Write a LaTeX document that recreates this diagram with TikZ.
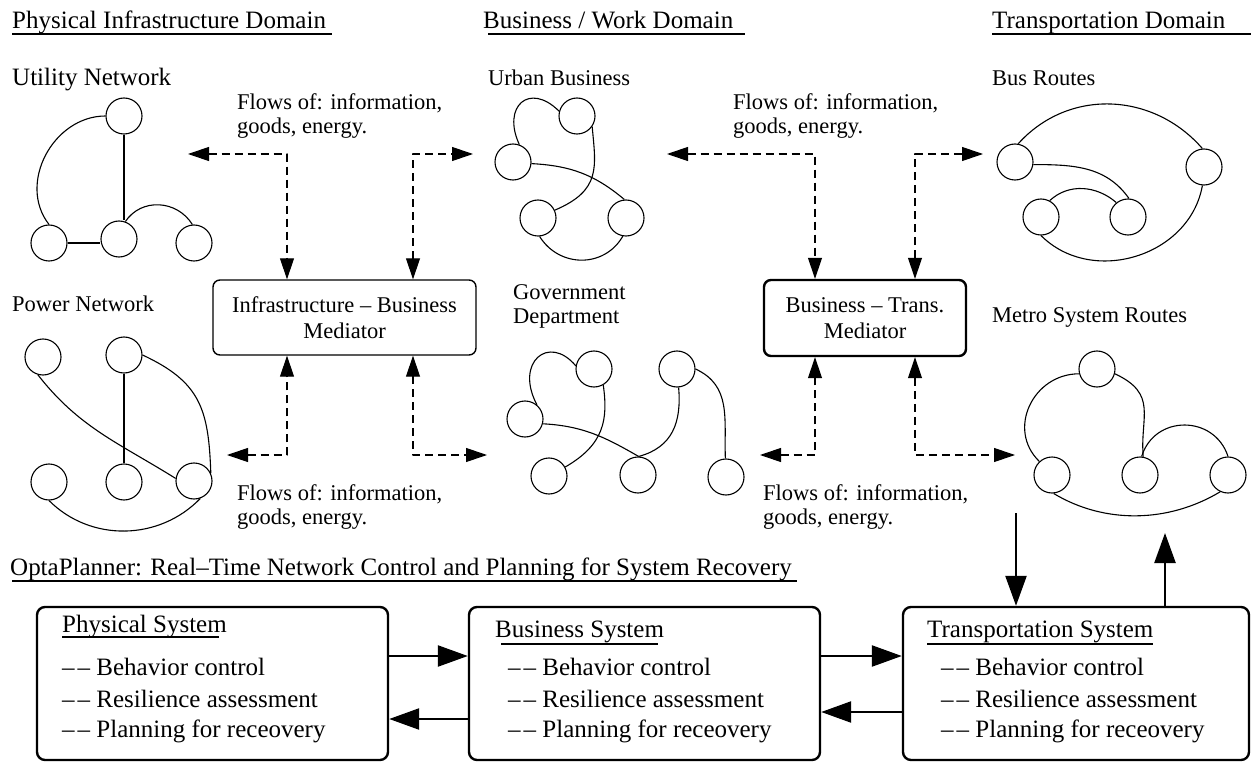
\documentclass[tikz,border=0pt]{standalone}
\usepackage{fontspec}
\setmainfont{Liberation Serif}
\usetikzlibrary{arrows.meta}
\newcommand\twodash{–\kern3pt–}
\newcommand\twoline[3]{\vtop{\baselineskip=#1\hbox{#2}\hbox{#3}}}
\begin{document}
\begin{tikzpicture}[x=1pt,y=1pt,line join=round,
  nd/.style={circle,draw,minimum size=36pt,inner sep=0pt,line width=1.1pt},
  link/.style={line width=1.1pt},
  small/.style={anchor=base west,inner sep=0pt,font=\fontsize{22.5}{26}\selectfont},
  big/.style={anchor=base west,inner sep=0pt,font=\fontsize{25}{30}\selectfont},
  uline/.style={line width=1.8pt},
  tline/.style={line width=1.3pt},
  flow/.style={line width=1.1pt,dash pattern=on 8pt off 5pt,
    {Triangle[length=21pt,width=14pt]}-{Triangle[length=21pt,width=14pt]}},
  ctl/.style={line width=2.4pt,-{Triangle[length=30pt,width=21pt]}},
  sysbox/.style={draw,rounded corners=8pt,line width=2.4pt,minimum height=153pt,inner sep=0pt},
  medbox/.style={draw,rounded corners=7pt,align=center,inner sep=0pt,
    font=\fontsize{22.5}{26}\selectfont},
]
\path[use as bounding box,fill=white] (0,0) rectangle (1251,-762);

% ---------- domain headings ----------
\node[big] (h1) at (12,-29) {Physical Infrastructure Domain};
\node[big] (h2) at (483,-29) {Business / Work Domain};
\node[big] (h3) at (992,-29) {Transportation Domain};
\draw[uline] (12,-34) -- (332,-34);
\draw[uline] (488,-34) -- (745,-34);
\draw[uline] (992,-34) -- (1251,-34);

% ---------- network labels ----------
\node[big] (lUtil) at (12,-86) {Utility Network};
\node[small] (lUrb) at (488,-86) {Urban Business};
\node[small] (lBus) at (992,-86) {Bus Routes};
\node[small] (lPow) at (12,-312) {Power Network};
\node[small] (lGov) at (513,-300) {\twoline{24pt}{Government}{Department}};
\node[small] (lMet) at (992,-323) {Metro System Routes};

% ---------- flow labels ----------
\node[small] (fa) at (237,-110) {\twoline{24pt}{Flows of: information,}{goods, energy.}};
\node[small] (fb) at (733,-110) {\twoline{24pt}{Flows of: information,}{goods, energy.}};
\node[small] (fc) at (237,-500) {\twoline{24pt}{Flows of: information,}{goods, energy.}};
\node[small] (fd) at (763,-500) {\twoline{24pt}{Flows of: information,}{goods, energy.}};

% ---------- utility network ----------
\node[nd] (uT) at (124,-116) {};
\node[nd] (uBL) at (49,-243) {};
\node[nd] (uBM) at (119,-239) {};
\node[nd] (uBR) at (194,-243) {};
\draw[link] (uT.west) .. controls +(180:52) and +(128:52) .. (uBL.north);
\draw[link] (uT.south) -- (uT.south |- uBM.north);
\draw[link] (uBL.east) -- (uBL.east -| uBM.west);
\draw[link] (uBM.70) .. controls +(56:29) and +(122:29) .. (uBR.95);

% ---------- power network ----------
\node[nd] (pTL) at (43,-357) {};
\node[nd] (pTM) at (124,-355) {};
\node[nd] (pBL) at (49,-482) {};
\node[nd] (pBM) at (124,-482) {};
\node[nd] (pBR) at (194,-481) {};
\draw[link] (pTL.-106) to[out=-52,in=148] (pBR.172);
\draw[link] (pTM.south) -- (pBM.north);
\draw[link] (pTM.0) to[out=-25,in=92,looseness=1.2] (pBR.25);
\draw[link] (pBL.-90) .. controls +(-45:59) and +(-134:59) .. (pBR.-70);

% ---------- urban business ----------
\node[nd] (bTR) at (577,-116) {};
\node[nd] (bL) at (513,-162) {};
\node[nd] (bBL) at (538,-218) {};
\node[nd] (bBR) at (626,-218) {};
\draw[link] (bTR.165) .. controls +(135:42) and +(115:42) .. (bL.70);
\draw[link] (bTR.-35) .. controls +(-85:40) and +(23:51) .. (bBL.25);
\draw[link] (bL.-5) to[out=-3,in=140] (bBR.95);
\draw[link] (bBL.-85) .. controls +(-58:37) and +(-120:37) .. (bBR.-100);

% ---------- government department ----------
\node[nd] (gT) at (594,-369) {};
\node[nd] (gL) at (525,-419) {};
\node[nd] (gBL) at (549,-476) {};
\node[nd] (gBM) at (638,-475) {};
\node[nd] (gTR) at (677,-369) {};
\node[nd] (gBR) at (726,-477) {};
\draw[link] (gT.170) .. controls +(130:42) and +(118:48) .. (gL.50);
\draw[link] (gT.-60) .. controls +(-82:35) and +(30:45) .. (gBL.29);
\draw[link] (gL.-15) to[out=-3,in=150] (gBM.88);
\draw[link] (gBM.88) .. controls +(15:35) and +(-85:35) .. (gTR.-85);
\draw[link] (gTR.0) .. controls +(-25:40) and +(92:40) .. (gBR.92);

% ---------- bus routes ----------
\node[nd] (tL) at (1015,-162) {};
\node[nd] (tR) at (1204,-167) {};
\node[nd] (tBL) at (1041,-217) {};
\node[nd] (tBR) at (1128,-217) {};
\draw[link] (tL.80) .. controls +(48:75) and +(131:75) .. (tR.95);
\draw[link] (tL.-8) to[out=0,in=125] (tBR.87);
\draw[link] (tBL.62) .. controls +(43:26) and +(139:26) .. (tBR.129);
\draw[link] (tBL.-90) .. controls +(-45:72) and +(-100:72) .. (tR.-95);

% ---------- metro system routes ----------
\node[nd] (mT) at (1097,-369) {};
\node[nd] (mBL) at (1052,-475) {};
\node[nd] (mBM) at (1140,-475) {};
\node[nd] (mBR) at (1228,-475) {};
\draw[link] (mT.195) .. controls +(180:46) and +(136:46) .. (mBL.133);
\draw[link] (mT.-15) .. controls +(-25:48) and +(95:40) .. (mBM.80);
\draw[link] (mBM.85) .. controls +(73:44) and +(108:44) .. (mBR.90);
\draw[link] (mBL.-85) .. controls +(-31:60) and +(-149:60) .. (mBR.-115);

% ---------- mediators ----------
\node[medbox,line width=1.4pt,minimum width=263pt,minimum height=75pt] (M1)
  at (344.5,-317.5) {Infrastructure – Business\\Mediator};
\node[medbox,line width=2.4pt,minimum width=202pt,minimum height=76pt] (M2)
  at (865,-318) {Business – Trans.\\Mediator};

% dashed flow connectors
\coordinate (xa) at (287,0);
\coordinate (xb) at (413,0);
\coordinate (xc) at (815,0);
\coordinate (xd) at (915,0);
\coordinate (e1) at (188,-154);
\coordinate (e2) at (473,-154);
\coordinate (e3) at (667,-154);
\coordinate (e4) at (983,-154);
\coordinate (e5) at (227,-455);
\coordinate (e6) at (487,-455);
\coordinate (e7) at (760,-455);
\coordinate (e8) at (1015,-455);
\draw[flow] (e1) -| (xa |- M1.north);
\draw[flow] (xb |- M1.north) |- (e2);
\draw[flow] (e3) -| (xc |- M2.north);
\draw[flow] (xd |- M2.north) |- (e4);
\draw[flow] (e5) -| (xa |- M1.south);
\draw[flow] (xb |- M1.south) |- (e6);
\draw[flow] (e7) -| (xc |- M2.south);
\draw[flow] (xd |- M2.south) |- (e8);

% ---------- planner ----------
\node[big] (opt) at (10,-575) {OptaPlanner: Real–Time Network Control and Planning for System Recovery};
\draw[uline] (12,-581) -- (797,-581);

\node[sysbox,minimum width=351pt] (PS) at (212.5,-683.5) {};
\node[sysbox,minimum width=351pt] (BS) at (644.5,-683.5) {};
\node[sysbox,minimum width=346pt] (TS) at (1076,-683.5) {};

\node[big] (psT) at (62,-632) {Physical System};
\draw[tline] (62,-637) -- (219,-637);
\node[big] (ps1) at (62,-675) {\twodash{} Behavior control};
\node[big] (ps2) at (62,-707) {\twodash{} Resilience assessment};
\node[big] (ps3) at (62,-737) {\twodash{} Planning for receovery};

\node[big] (bsT) at (495,-637) {Business System};
\draw[tline] (501,-644) -- (658,-644);
\node[big] (bs1) at (508,-675) {\twodash{} Behavior control};
\node[big] (bs2) at (508,-707) {\twodash{} Resilience assessment};
\node[big] (bs3) at (508,-737) {\twodash{} Planning for receovery};

\node[big] (tsT) at (927,-637) {Transportation System};
\draw[tline] (927,-644) -- (1153,-644);
\node[big] (ts1) at (941,-675) {\twodash{} Behavior control};
\node[big] (ts2) at (941,-707) {\twodash{} Resilience assessment};
\node[big] (ts3) at (941,-737) {\twodash{} Planning for receovery};

\draw[ctl] ([yshift=27.5pt]PS.east) -- ([yshift=27.5pt]BS.west);
\draw[ctl] ([yshift=-35.5pt]BS.west) -- ([yshift=-35.5pt]PS.east);
\draw[ctl] ([yshift=27.5pt]BS.east) -- ([yshift=27.5pt]TS.west);
\draw[ctl] ([yshift=-28.5pt]TS.west) -- ([yshift=-28.5pt]BS.east);
\coordinate (dIn) at (1016,-513);
\coordinate (uOut) at (1165,-533);
\draw[ctl] (dIn) -- (dIn |- TS.north);
\draw[ctl] (uOut |- TS.north) -- (uOut);
\end{tikzpicture}
\end{document}
